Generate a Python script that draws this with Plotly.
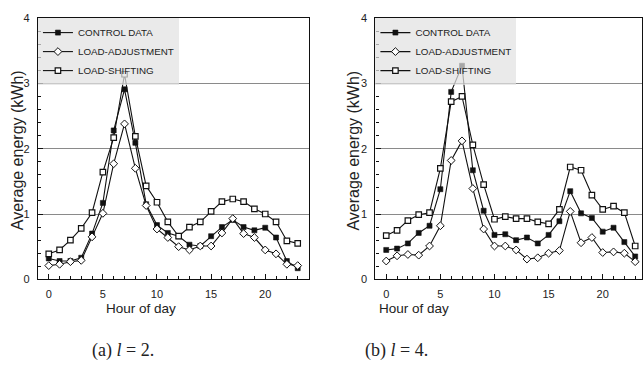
import plotly.graph_objects as go

hours = list(range(24))

# Panel (a): l = 2
a_control = [0.32, 0.28, 0.28, 0.33, 0.70, 1.17, 2.28, 2.91, 2.09, 1.15, 0.83, 0.71, 0.66, 0.53, 0.51, 0.66,
             0.80, 0.91, 0.80, 0.75, 0.79, 0.64, 0.28, 0.17]
a_adjust = [0.21, 0.23, 0.27, 0.29, 0.65, 1.01, 1.77, 2.38, 1.70, 1.13, 0.77, 0.64, 0.50, 0.45, 0.51, 0.51,
            0.71, 0.93, 0.70, 0.64, 0.45, 0.39, 0.23, 0.21]
a_shift = [0.39, 0.45, 0.60, 0.78, 1.02, 1.64, 2.17, 3.14, 2.19, 1.43, 1.18, 0.88, 0.66, 0.80, 0.88, 1.04,
           1.19, 1.23, 1.19, 1.08, 1.00, 0.88, 0.59, 0.55]

# Panel (b): l = 4
b_control = [0.45, 0.47, 0.55, 0.71, 0.82, 1.38, 2.87, 3.27, 1.67, 1.05, 0.68, 0.69, 0.60, 0.64, 0.55, 0.68,
             0.89, 1.35, 1.01, 0.94, 0.73, 0.79, 0.57, 0.35]
b_adjust = [0.28, 0.36, 0.38, 0.37, 0.51, 0.82, 1.82, 2.12, 1.39, 0.77, 0.51, 0.51, 0.45, 0.31, 0.33, 0.40,
            0.44, 1.04, 0.56, 0.64, 0.41, 0.42, 0.40, 0.27]
b_shift = [0.67, 0.75, 0.90, 0.99, 1.02, 1.70, 2.72, 2.80, 2.06, 1.45, 0.92, 0.96, 0.93, 0.93, 0.88, 0.85,
           1.07, 1.72, 1.67, 1.29, 1.07, 1.12, 1.02, 0.51]

series_names = ["CONTROL DATA", "LOAD-ADJUSTMENT", "LOAD-SHIFTING"]
y_ticks = [0, 1, 2, 3, 4]
x_ticks = [0, 5, 10, 15, 20]
captions = ["(a) <i>l</i> = 2.", "(b) <i>l</i> = 4."]
x_title = "Hour of day"
y_title = "Average energy (kWh)"

W, H = 643, 369
LINE = "#111111"

styles = [
    dict(symbol="square", size=5, color=LINE, line=dict(color=LINE, width=0.6)),
    dict(symbol="diamond", size=6, color="white", line=dict(color=LINE, width=1)),
    dict(symbol="square", size=5.5, color="white", line=dict(color=LINE, width=1.2)),
]

fig = go.Figure()

panels = [
    ([a_control, a_adjust, a_shift], "x", "y", "legend"),
    ([b_control, b_adjust, b_shift], "x2", "y2", "legend2"),
]
for data, xa, ya, lg in panels:
    for name, vals, st in zip(series_names, data, styles):
        fig.add_trace(go.Scatter(
            x=hours, y=vals, name=name, mode="lines+markers",
            line=dict(color=LINE, width=1.1),
            marker=st, xaxis=xa, yaxis=ya, legend=lg,
        ))

def px_x(p):
    return p / W

def px_y(p):
    return 1 - p / H

ydom = [px_y(282.5), px_y(12.5)]
xdom1 = [px_x(38), px_x(309)]
xdom2 = [px_x(376), 1.0]

tickfont = dict(family="Liberation Sans, Arial, sans-serif", size=11, color="#222")

def xaxis(dom, rng, anchor):
    return dict(domain=dom, range=rng, anchor=anchor, tickvals=x_ticks,
                ticks="inside", ticklen=5, tickcolor=LINE, tickwidth=1,
                minor=dict(dtick=1, tick0=0, ticks="inside", ticklen=3, tickcolor=LINE),
                showline=True, linecolor=LINE, linewidth=1.2, mirror=True,
                showgrid=False, zeroline=False, tickfont=tickfont, ticklabelstandoff=4)

def yaxis(anchor):
    return dict(domain=ydom, range=[0, 4], anchor=anchor, tickvals=y_ticks,
                ticks="inside", ticklen=5, tickcolor=LINE, tickwidth=1,
                minor=dict(dtick=0.2, tick0=0, ticks="inside", ticklen=3, tickcolor=LINE, showgrid=False),
                showline=True, linecolor=LINE, linewidth=1.2, mirror=True,
                showgrid=True, gridcolor="#8a8a8a", gridwidth=1,
                zeroline=False, tickfont=tickfont, ticklabelstandoff=5)

legend_common = dict(font=dict(family="Liberation Sans, Arial, sans-serif", size=9.8, color="#222"),
                     bgcolor="rgba(226,226,226,0.72)", borderwidth=0, xanchor="left", yanchor="top",
                     y=px_y(12.5), itemwidth=30, tracegroupgap=0)

annotations = []
for cx, cap in zip([123, 397], captions):
    annotations.append(dict(text=cap, x=px_x(cx), y=px_y(356), xref="paper", yref="paper",
                            showarrow=False, xanchor="center", yanchor="middle",
                            font=dict(family="Liberation Serif, Times New Roman, serif", size=18, color="#222")))
for cx in [141, 415]:
    annotations.append(dict(text=x_title, x=px_x(cx), y=px_y(313), xref="paper", yref="paper",
                            showarrow=False, xanchor="center", yanchor="middle",
                            font=dict(family="Liberation Sans, Arial, sans-serif", size=13.5, color="#222")))
for cx in [17, 354]:
    annotations.append(dict(text=y_title, x=px_x(cx), y=px_y(149), xref="paper", yref="paper",
                            showarrow=False, xanchor="center", yanchor="middle", textangle=-90,
                            font=dict(family="Liberation Sans, Arial, sans-serif", size=16, color="#222")))

fig.update_layout(
    width=W, height=H, margin=dict(l=0, r=0, t=0, b=0),
    paper_bgcolor="white", plot_bgcolor="white",
    xaxis=xaxis(xdom1, [-1, 24], "y"),
    yaxis=yaxis("x"),
    xaxis2=xaxis(xdom2, [-1, 23.63], "y2"),
    yaxis2=yaxis("x2"),
    legend=dict(x=px_x(38), **legend_common),
    legend2=dict(x=px_x(376), **legend_common),
    annotations=annotations,
    showlegend=True,
)

fig.write_html("out.html")
